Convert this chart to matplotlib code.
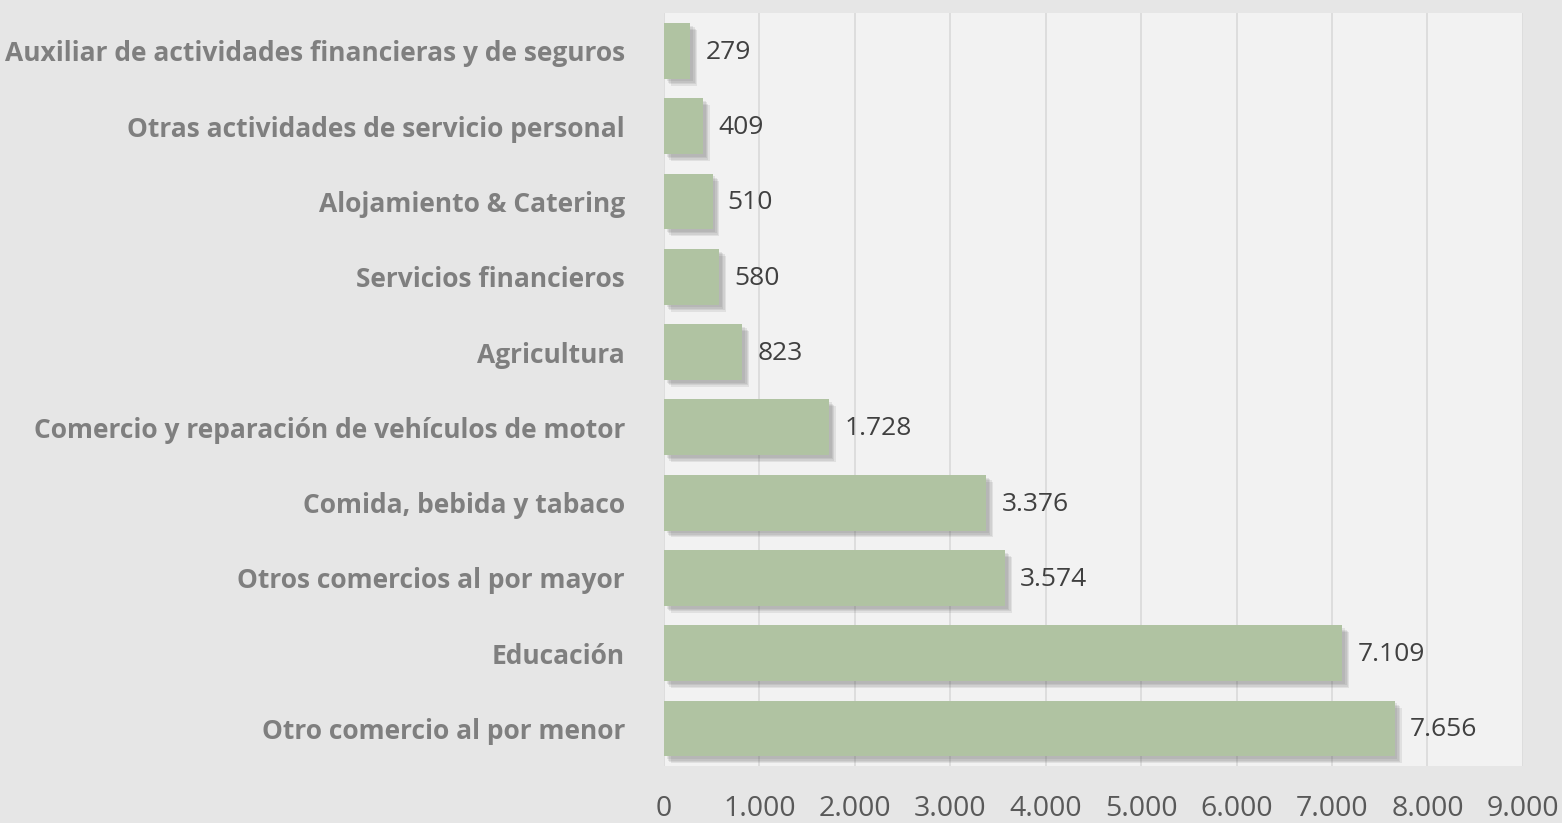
import matplotlib.pyplot as plt
import matplotlib.patheffects as pe
from matplotlib.ticker import FuncFormatter

# data, top to bottom as in the picture
sectores = [
    "Auxiliar de actividades financieras y de seguros",
    "Otras actividades de servicio personal",
    "Alojamiento & Catering",
    "Servicios financieros",
    "Agricultura",
    "Comercio y reparación de vehículos de motor",
    "Comida, bebida y tabaco",
    "Otros comercios al por mayor",
    "Educación",
    "Otro comercio al por menor",
]
valores = [279, 409, 510, 580, 823, 1728, 3376, 3574, 7109, 7656]
ticks_x = [0, 1000, 2000, 3000, 4000, 5000, 6000, 7000, 8000, 9000]


def miles(v, pos=None):
    return f"{int(v):,}".replace(",", ".")


plt.rcParams['font.family'] = ['Open Sans', 'DejaVu Sans']

fig = plt.figure(figsize=(15.62, 8.23), dpi=100)
fig.patch.set_facecolor('#e6e6e6')
ax = fig.add_axes([0.425, 0.069, 0.55, 0.915])
ax.set_facecolor('#f2f2f2')

# soft shadow: a few shifted copies with low alpha
sombra = [pe.SimplePatchShadow(offset=(d, -d), shadow_rgbFace='#606060', alpha=0.12)
          for d in (5, 4, 3, 2)]

y = list(range(len(sectores)))[::-1]
bars = ax.barh(y, valores, height=0.74, color='#b0c3a2', zorder=3)
for b in bars:
    b.set_path_effects(sombra + [pe.Normal()])

for yy, v in zip(y, valores):
    ax.annotate(miles(v), (v, yy), xytext=(11, -1), textcoords='offset points',
                va='center', ha='left', fontsize=19, color='#404040')

ax.set_xlim(0, 9000)
ax.set_ylim(-0.5, len(sectores) - 0.5)
ax.set_xticks(ticks_x)
ax.xaxis.set_major_formatter(FuncFormatter(miles))
ax.set_yticks(y)
ax.set_yticklabels(sectores, fontsize=19, fontweight='bold', color='#7f7f7f')
ax.tick_params(axis='y', length=0, pad=28)
ax.tick_params(axis='x', length=0, pad=21, labelsize=20.5, labelcolor='#595959')
ax.grid(axis='x', color='#d9d9d9', linewidth=1.2, zorder=0)
for s in ax.spines.values():
    s.set_visible(False)

fig.savefig('out.png', dpi=100, facecolor=fig.get_facecolor())
